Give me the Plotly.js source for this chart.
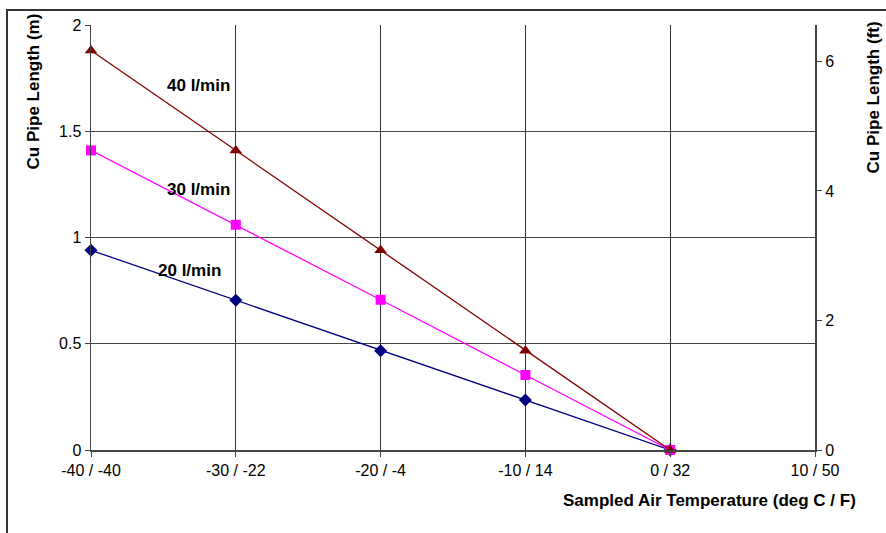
<!DOCTYPE html>
<html>
<head>
<meta charset="utf-8">
<script src="https://cdn.plot.ly/plotly-3.0.1.min.js"></script>
<style>
html,body{margin:0;padding:0;background:#fff;}
#chart{width:886px;height:533px;}
</style>
</head>
<body>
<div id="chart"></div>
<script>
// Data
const tempC = [-40, -30, -20, -10, 0];
const tickVals = [-40, -30, -20, -10, 0, 10];
const tickLabels = ["-40 / -40", "-30 / -22", "-20 / -4", "-10 / 14", "0 / 32", "10 / 50"];
const flow20 = [0.94, 0.705, 0.467, 0.235, 0];
const flow30 = [1.41, 1.06, 0.707, 0.353, 0];
const flow40 = [1.88, 1.41, 0.94, 0.467, 0];
const ftTicks = [0, 2, 4, 6];
const mToFt = 3.28084;
const yMax = 2;

const font = "Liberation Sans, Arial, sans-serif";

const traces = [
  {x: tempC, y: flow20, mode: "lines+markers", name: "20 l/min", cliponaxis: false,
   line: {color: "#000080", width: 1.3},
   marker: {symbol: "diamond", size: 10, color: "#000080"}},
  {x: tempC, y: flow30, mode: "lines+markers", name: "30 l/min", cliponaxis: false,
   line: {color: "#FF00FF", width: 1.3},
   marker: {symbol: "square", size: 10, color: "#FF00FF"}},
  {x: tempC, y: flow40, mode: "lines+markers", name: "40 l/min", cliponaxis: false,
   line: {color: "#800000", width: 1.3},
   marker: {symbol: "triangle-up", size: 11, color: "#800000"}},
  {x: [tempC[0]], y: [0], yaxis: "y2", mode: "markers", showlegend: false,
   hoverinfo: "skip", marker: {opacity: 0}}
];

const layout = {
  width: 886, height: 533,
  margin: {l: 91, r: 71, t: 24.5, b: 83, pad: 0},
  paper_bgcolor: "#ffffff", plot_bgcolor: "#ffffff",
  showlegend: false,
  font: {family: font, size: 16, color: "#000"},
  xaxis: {
    range: [tickVals[0], tickVals[tickVals.length - 1]],
    tickmode: "array", tickvals: tickVals, ticktext: tickLabels,
    showgrid: true, gridcolor: "#333", gridwidth: 1,
    showline: true, linecolor: "#444", linewidth: 2,
    ticks: "outside", ticklen: 5, tickcolor: "#444",
    zeroline: false, tickfont: {size: 16, family: font},
    fixedrange: true
  },
  yaxis: {
    range: [0, yMax], tickmode: "array", tickvals: [0, 0.5, 1, 1.5, 2],
    ticktext: ["0", "0.5", "1", "1.5", "2"],
    showgrid: true, gridcolor: "#444", gridwidth: 1,
    showline: true, linecolor: "#444", linewidth: 1.5,
    ticks: "outside", ticklen: 5, tickcolor: "#444",
    zeroline: false, tickfont: {size: 16, family: font},
    mirror: false
  },
  yaxis2: {
    overlaying: "y", side: "right",
    range: [0, yMax * mToFt], tickmode: "array", tickvals: ftTicks,
    showgrid: false, zeroline: false,
    showline: true, linecolor: "#444", linewidth: 2,
    ticks: "outside", ticklen: 5, tickcolor: "#444",
    tickfont: {size: 16, family: font}
  },
  shapes: [
    {type: "rect", xref: "paper", yref: "paper",
     x0: (7 - 91) / 724, x1: 2, y0: -1, y1: (450 - 9.5) / 425.5,
     line: {color: "#333", width: 2}, fillcolor: "rgba(0,0,0,0)", layer: "below"}
  ],
  annotations: [
    {text: "40 l/min", x: -32.6, y: 1.716, xref: "x", yref: "y", showarrow: false,
     font: {family: font, size: 17, color: "#000", weight: "bold"}},
    {text: "30 l/min", x: -32.6, y: 1.227, xref: "x", yref: "y", showarrow: false,
     font: {family: font, size: 17, color: "#000", weight: "bold"}},
    {text: "20 l/min", x: -33.2, y: 0.846, xref: "x", yref: "y", showarrow: false,
     font: {family: font, size: 17, color: "#000", weight: "bold"}},
    {text: "<b>Sampled Air Temperature (deg C / F)</b>", xref: "paper", yref: "paper",
     x: (858 - 91) / 724, y: (450 - 501) / 425.5, xanchor: "right", yanchor: "middle",
     showarrow: false, font: {family: font, size: 17, color: "#000"}},
    {text: "<b>Cu Pipe Length (m)</b>", xref: "paper", yref: "paper", textangle: -90,
     x: (33 - 91) / 724, y: (450 - 91) / 425.5, xanchor: "center", yanchor: "middle",
     showarrow: false, font: {family: font, size: 17, color: "#000"}},
    {text: "<b>Cu Pipe Length (ft)</b>", xref: "paper", yref: "paper", textangle: -90,
     x: (873 - 91) / 724, y: (450 - 97) / 425.5, xanchor: "center", yanchor: "middle",
     showarrow: false, font: {family: font, size: 17, color: "#000"}}
  ]
};

Plotly.newPlot("chart", traces, layout, {displayModeBar: false, staticPlot: true});
</script>
</body>
</html>
